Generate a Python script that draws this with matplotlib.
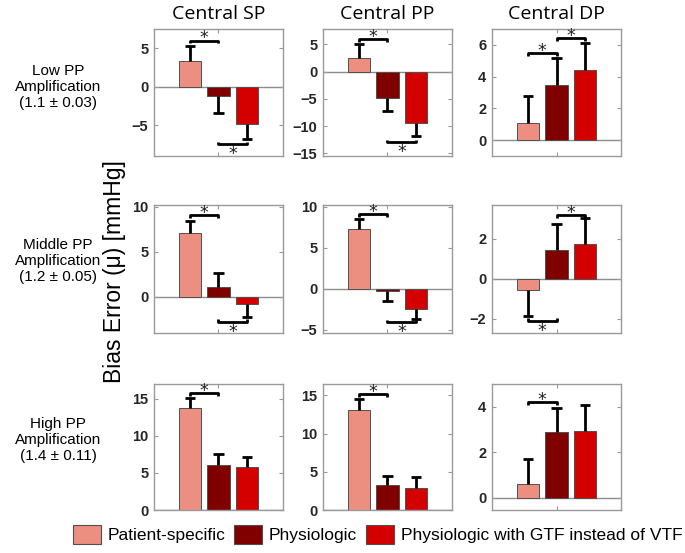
import matplotlib
matplotlib.use('Agg')
import matplotlib.pyplot as plt
from matplotlib.patches import Patch
import numpy as np

# ==========================================
# DATA
# ==========================================
col_titles = ["Central SP", "Central PP", "Central DP"]
row_labels = ["Low PP\nAmplification\n(1.1 \u00b1 0.03)",
              "Middle PP\nAmplification\n(1.2 \u00b1 0.05)",
              "High PP\nAmplification\n(1.4 \u00b1 0.11)"]
series = ["Patient-specific", "Physiologic", "Physiologic with GTF instead of VTF"]

# bias (mean) per panel, rows = PP amplification group, cols = SP/PP/DP
low_mean = [[3.34, -1.26, -4.8], [2.46, -4.9, -9.5], [1.05, 3.47, 4.4]]
low_err = [[2.0, 2.1, 2.0], [2.55, 2.3, 2.4], [1.7, 1.68, 1.72]]
mid_mean = [[7.07, 1.11, -0.81], [7.3, -0.3, -2.5], [-0.54, 1.44, 1.73]]
mid_err = [[1.41, 1.52, 1.39], [1.2, 1.2, 1.2], [1.31, 1.32, 1.3]]
high_mean = [[13.7, 6.07, 5.85], [13.15, 3.25, 2.94], [0.61, 2.89, 2.94]]
high_err = [[1.4, 1.43, 1.29], [1.35, 1.25, 1.39], [1.11, 1.07, 1.12]]

means = [low_mean, mid_mean, high_mean]
errs = [low_err, mid_err, high_err]

ylims = [[(-9, 7.5), (-15.5, 7.8), (-1, 7)],
         [(-4, 10.2), (-5.4, 10.2), (-2.7, 3.7)],
         [(0, 17), (0, 16.5), (-0.54, 5)]]
yticks = [[[-5, 0, 5], [-15, -10, -5, 0, 5], [0, 2, 4, 6]],
          [[0, 5, 10], [-5, 0, 5, 10], [-2, 0, 2]],
          [[0, 5, 10, 15], [0, 5, 10, 15], [0, 2, 4]]]

# significance brackets: (bar a, bar b, y level, side)
sig = [[[(0, 1, 6.0, 'top'), (1, 2, -7.5, 'bottom')],
        [(0, 1, 5.9, 'top'), (1, 2, -13.0, 'bottom')],
        [(0, 1, 5.5, 'top'), (1, 2, 6.45, 'top')]],
       [[(0, 1, 9.1, 'top'), (1, 2, -2.8, 'bottom')],
        [(0, 1, 9.1, 'top'), (1, 2, -4.1, 'bottom')],
        [(1, 2, 3.2, 'top'), (0, 1, -2.1, 'bottom')]],
       [[(0, 1, 15.8, 'top')],
        [(0, 1, 15.2, 'top')],
        [(0, 1, 4.19, 'top')]]]

colors = ['#EC8F80', '#800000', '#D40000']

# ==========================================
# FIGURE
# ==========================================
W, H = 685, 553
fig = plt.figure(figsize=(W / 100, H / 100), dpi=100)

col_left = [154, 323, 492]
ax_w = 129
row_top = [29, 205, 384]
row_bot = [156, 333, 510]

x = np.arange(1, 4)
edge_gray = '#9a9a9a'
cap_half = 0.19

for r in range(3):
    for c in range(3):
        ax = fig.add_axes([col_left[c] / W, 1 - row_bot[r] / H,
                           ax_w / W, (row_bot[r] - row_top[r]) / H])
        m = np.array(means[r][c])
        e = np.array(errs[r][c])
        ax.axhline(0, color='#8c8c8c', lw=1.0, zorder=1)
        ax.bar(x, m, width=0.8, color=colors, edgecolor='#505050',
               linewidth=0.7, zorder=2)
        # one-sided error bars pointing away from zero
        tip = m + np.sign(m) * e
        ax.vlines(x, m, tip, colors='black', lw=2, zorder=3)
        ax.hlines(tip, x - cap_half, x + cap_half, colors='black', lw=2, zorder=3)

        lo, hi = ylims[r][c]
        tick = 0.022 * (hi - lo)
        for a, b, yl, side in sig[r][c]:
            d = -tick if side == 'top' else tick
            ax.plot([x[a], x[a], x[b], x[b]], [yl + d, yl, yl, yl + d],
                    color='black', lw=2, solid_capstyle='butt', zorder=4,
                    clip_on=False)
            xm = (x[a] + x[b]) / 2
            dy = 1.5 if side == 'top' else -7
            ax.annotate('*', (xm, yl), xytext=(0, dy), textcoords='offset points',
                        ha='center', va='center', fontsize=12.5, color='#222222',
                        zorder=5, annotation_clip=False)

        ax.set_xlim(2 - 2.265, 2 + 2.265)
        ax.set_ylim(lo, hi)
        ax.set_xticks([2])
        ax.set_xticklabels([])
        ax.set_yticks(yticks[r][c])
        ax.tick_params(direction='in', length=3, width=0.8, color=edge_gray,
                       top=True, right=True, labelsize=10.5, labelcolor='#262626',
                       pad=4)
        for lab in ax.get_yticklabels():
            lab.set_fontweight('bold')
            lab.set_family('Liberation Sans')
        for sp in ax.spines.values():
            sp.set_color(edge_gray)
            sp.set_linewidth(1.0)

        if r == 0:
            ax.text(0.5, 1 + 15 / 127, col_titles[c], transform=ax.transAxes,
                    ha='center', va='center', fontsize=14, family='Open Sans')

# row labels
row_cy = [87, 261, 440]
for r in range(3):
    fig.text(58 / W, 1 - row_cy[r] / H, row_labels[r], ha='center', va='center',
             fontsize=11, linespacing=1.2, family='Liberation Sans')

# shared y label
fig.text(114 / W, 1 - 272 / H, 'Bias Error (\u03bc) [mmHg]', rotation=90,
         ha='center', va='center', fontsize=16.5, family='Liberation Sans')

handles = [Patch(facecolor=col, edgecolor='#505050', linewidth=0.8) for col in colors]
fig.legend(handles, series, loc='center', bbox_to_anchor=(377.5 / W, 1 - 534.5 / H),
           ncol=3, frameon=False, prop={'family': 'Liberation Sans', 'size': 12.5},
           handlelength=1.6, handleheight=1.3, handletextpad=0.4,
           columnspacing=0.5, borderaxespad=0)

fig.savefig('out.png', dpi=100)
plt.close(fig)
